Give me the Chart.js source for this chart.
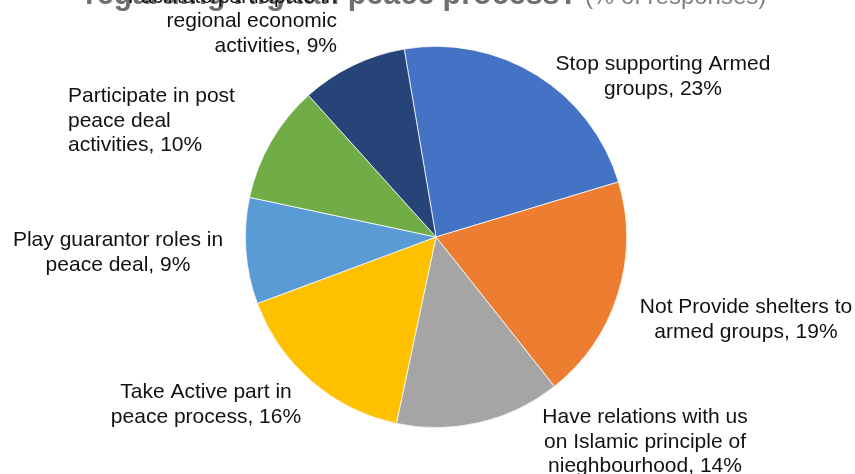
<!DOCTYPE html>
<html>
<head>
<meta charset="utf-8">
<script src="https://cdn.jsdelivr.net/npm/chart.js@4.4.1/dist/chart.umd.min.js"></script>
<style>
  html, body { margin: 0; padding: 0; background: #fff; }
  #wrap { width: 855px; height: 474px; position: relative; }
</style>
</head>
<body>
<div id="wrap"><canvas id="c" width="855" height="474"></canvas></div>
<script>
// ---- Data ----
const categories = [
  "Stop supporting Armed groups",
  "Not Provide shelters to armed groups",
  "Have relations with us on Islamic principle of nieghbourhood",
  "Take Active part in peace process",
  "Play guarantor roles in peace deal",
  "Participate in post peace deal activities",
  "Facilitate/participate in regional economic activities"
];
const shares = [23, 19, 14, 16, 9, 10, 9];
const labelLines = [
  ["Stop supporting Armed", "groups, 23%"],
  ["Not Provide shelters to", "armed groups, 19%"],
  ["Have relations with us", "on Islamic principle of", "nieghbourhood, 14%"],
  ["Take Active part in", "peace process, 16%"],
  ["Play guarantor roles in", "peace deal, 9%"],
  ["Participate in post", "peace deal", "activities, 10%"],
  ["Facilitate/participate in", "regional economic", "activities, 9%"]
];
const titleBold = "regarding Afghan peace process?";
const titleNormal = " (% of responses)";

// ---- Styles / layout ----
const colors = ["#4472C4", "#ED7D31", "#A5A5A5", "#FFC000", "#5B9BD5", "#70AD47", "#264478"];
const labelLayout = [
  { x: 663, y: 70,  align: "center" },
  { x: 746, y: 313, align: "center" },
  { x: 645, y: 423, align: "center" },
  { x: 206, y: 398, align: "center" },
  { x: 118, y: 246, align: "center" },
  { x: 68,  y: 102, align: "left" },
  { x: 337, y: 2.5, align: "right" }
];
const LINE_H = 24.5;

const labelPlugin = {
  id: "pieLabels",
  afterDraw(chart) {
    const ctx = chart.ctx;
    ctx.save();
    // title (cut off at top, as in the reference)
    ctx.textBaseline = "alphabetic";
    ctx.textAlign = "left";
    ctx.fillStyle = "#6f6f6f";
    ctx.font = "bold 30.5px 'Liberation Sans', Arial, sans-serif";
    ctx.fillText(titleBold, 85, 4);
    const w = ctx.measureText(titleBold).width;
    ctx.fillStyle = "#7f7f7f";
    ctx.font = "24px 'Liberation Sans', Arial, sans-serif";
    ctx.fillText(titleNormal, 85 + w, 4);

    // data labels
    ctx.fillStyle = "#111";
    ctx.font = "21px 'Liberation Sans', Arial, sans-serif";
    labelLines.forEach((lines, i) => {
      const L = labelLayout[i];
      ctx.textAlign = L.align;
      lines.forEach((t, j) => ctx.fillText(t, L.x, L.y + j * LINE_H));
    });
    ctx.restore();
  }
};

new Chart(document.getElementById("c"), {
  type: "pie",
  data: {
    labels: categories,
    datasets: [{
      data: shares,
      backgroundColor: colors,
      borderColor: "#ffffff",
      borderWidth: 0.75
    }]
  },
  options: {
    responsive: false,
    animation: false,
    rotation: -9.6,
    layout: { padding: { top: 46, bottom: 46, left: 100, right: 83 } },
    plugins: {
      legend: { display: false },
      title: { display: false },
      tooltip: { enabled: false }
    }
  },
  plugins: [labelPlugin]
});
</script>
</body>
</html>
